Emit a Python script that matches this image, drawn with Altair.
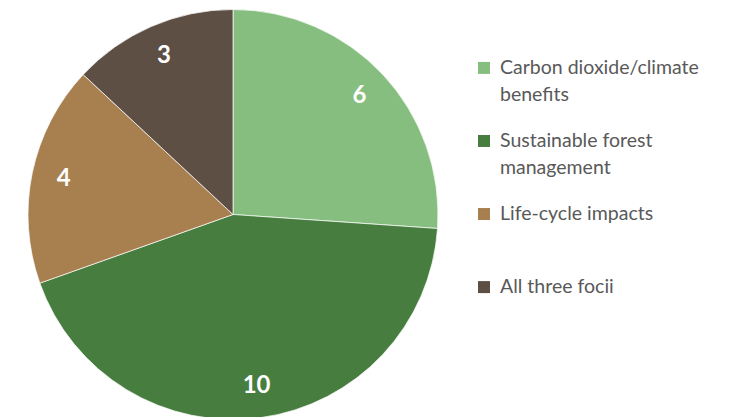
import altair as alt
import pandas as pd

categories = ["Carbon dioxide/climate benefits", "Sustainable forest management",
              "Life-cycle impacts", "All three focii"]
legend_labels = ["Carbon dioxide/climate\nbenefits", "Sustainable forest\nmanagement",
                 "Life-cycle impacts", "All three focii"]
values = [6, 10, 4, 3]
colors = ["#86BE7F", "#477D3F", "#A8804F", "#5E4F45"]

df = pd.DataFrame({
    "category": categories,
    "value": values,
    "order": list(range(len(categories))),
    "legend": legend_labels,
})

color_scale = alt.Scale(domain=categories, range=colors)

base = alt.Chart(df).encode(
    theta=alt.Theta("value:Q", stack=True),
    order=alt.Order("order:Q"),
)

arcs = base.mark_arc(outerRadius=205, stroke="white", strokeWidth=0.7).encode(
    color=alt.Color("category:N", scale=color_scale, legend=None)
)
labels = base.mark_text(radius=173, font="Lato", fontSize=24, fontWeight="bold",
                        color="white").encode(text="value:Q")

pie = alt.layer(arcs, labels).properties(width=450, height=413)

lbase = alt.Chart(df).encode(
    y=alt.Y("category:N", sort=categories, axis=None,
            scale=alt.Scale(type="point", padding=0.82)),
)
squares = lbase.mark_square(size=144, opacity=1).encode(
    x=alt.value(26),
    color=alt.Color("category:N", scale=color_scale, legend=None),
)
ltext = lbase.mark_text(align="left", baseline="top", dy=-9, lineBreak="\n",
                        lineHeight=27, font="Lato", fontSize=19.5,
                        color="#595959").encode(x=alt.value(42), text="legend:N")
legend = alt.layer(squares, ltext).properties(width=262, height=339)

chart = alt.hconcat(pie, legend, spacing=0).properties(
    padding=0
).configure_view(stroke=None)

chart.save("out.html", embed_options={"renderer": "svg", "actions": False})
